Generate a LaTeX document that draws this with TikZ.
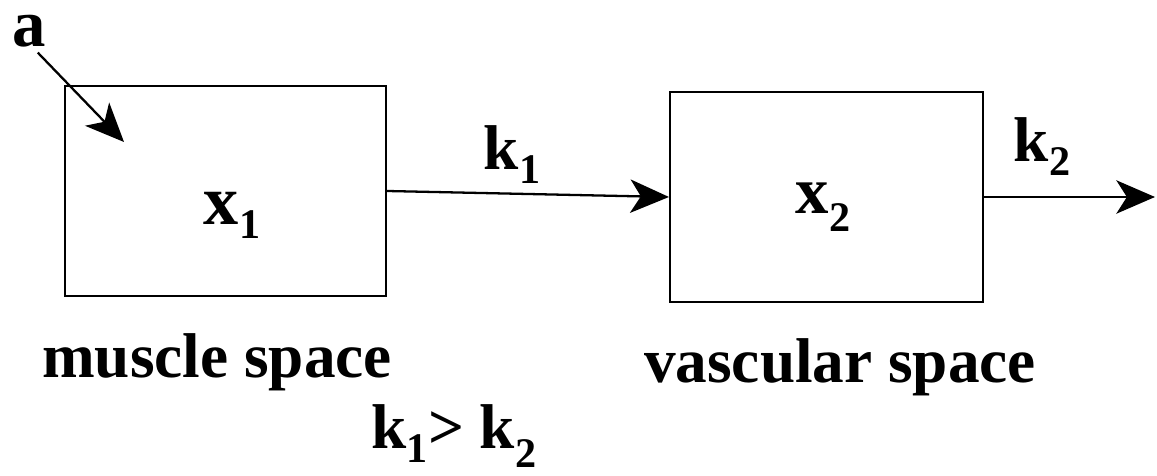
\documentclass[tikz,border=0pt]{standalone}
\usepackage{fontspec}
\setmainfont{Liberation Serif}
\usetikzlibrary{arrows.meta}

% lowered subscript, as in the printed figure
\newcommand{\lowsub}[2][8pt]{\raisebox{-#1}{\fontsize{24}{24}\selectfont #2}}

\begin{document}
\begin{tikzpicture}[x=0.02cm, y=-0.02cm,
    >={Stealth[length=22pt, width=19pt, inset=6pt]},
    box/.style={draw, line width=1.2pt, minimum height=4.2cm, inner sep=0pt},
    lbl/.style={font=\bfseries\fontsize{36}{40}\selectfont, inner sep=0pt},
    flow/.style={->, line width=1.3pt}]
    \useasboundingbox (0,0) rectangle (1157,476);

    % the two compartments
    \node[box, minimum width=6.42cm] (box1) at (225.5,191) {};
    \node[box, minimum width=6.26cm] (box2) at (826.5,197) {};

    % contents
    \node[lbl, font=\bfseries\fontsize{40}{44}\selectfont] (x1) at (232,215) {x\lowsub{1}};
    \node[lbl, font=\bfseries\fontsize{38}{42}\selectfont] (x2) at (823,207) {x\lowsub[10pt]{2}};

    % names under the boxes
    \node[lbl] (muscle) at (217,362) {muscle space};
    \node[lbl] (vascular) at (840,367) {vascular space};

    % input a
    \node[lbl, font=\bfseries\fontsize{38}{42}\selectfont] (a) at (29,31) {a};
    \coordinate (ain) at (124,142);
    \draw[flow] ([xshift=5pt, yshift=-3pt]a.south) -- (ain);

    % transfer k1 and loss k2
    \coordinate (out) at (1155,197);
    \draw[flow] (box1.east) -- (box2.west);
    \draw[flow] (box2.east) -- (out);
    \node[lbl] (k1) at (512,155) {k\lowsub{1}};
    \node[lbl] (k2) at (1042,147) {k\lowsub{2}};

    % rate condition
    \node[lbl] (cond) at (454,436) {k\lowsub{1}> k\lowsub[11pt]{2}};
\end{tikzpicture}
\end{document}
